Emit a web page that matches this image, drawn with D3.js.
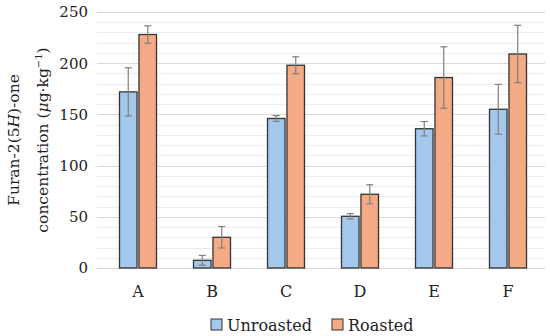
<!DOCTYPE html>
<html>
<head>
<meta charset="utf-8">
<script src="https://cdn.jsdelivr.net/npm/d3@7"></script>
<style>
  body { margin: 0; background: #fff; }
  text { font-family: "DejaVu Serif", serif; fill: #222; }
</style>
</head>
<body>
<script>
const samples = ['A', 'B', 'C', 'D', 'E', 'F'];
const groups = ['Unroasted', 'Roasted'];
const unroasted = [172, 7.5, 146, 50.5, 136, 155];
const unroastedErr = [23.5, 4.8, 2.8, 2.6, 7, 24.3];
const roasted = [228, 30, 198, 72, 186, 209];
const roastedErr = [8.5, 10.5, 8.3, 9.3, 30, 28];
const yTicks = [0, 50, 100, 150, 200, 250];

const colors = { Unroasted: '#a4c8ec', Roasted: '#f4aa84' };

const width = 550, height = 336;
const margin = { t: 12, b: 68, l: 101, r: 5 };
const w = width - margin.l - margin.r;
const h = height - margin.t - margin.b;

const svg = d3.select('body').append('svg')
  .attr('width', width)
  .attr('height', height);

const g = svg.append('g')
  .attr('transform', `translate(${margin.l},${margin.t})`);

const x = d3.scaleBand().domain(samples).range([0, w]);
const x1 = d3.scaleBand().domain(groups).range([x.bandwidth() * 0.25, x.bandwidth() * 0.75]).paddingInner(0.1);
const y = d3.scaleLinear().domain([0, 250]).range([h, 0]);

// minor gridlines every 10, major every 50
g.append('g').selectAll('line')
  .data(d3.range(10, 250, 10).filter(v => v % 50 !== 0))
  .enter().append('line')
  .attr('x1', -4).attr('x2', w)
  .attr('y1', d => Math.round(y(d)) + 0.5).attr('y2', d => Math.round(y(d)) + 0.5)
  .style('stroke', '#ececec');

g.append('g').selectAll('line')
  .data(yTicks)
  .enter().append('line')
  .attr('x1', -4).attr('x2', w)
  .attr('y1', d => Math.round(y(d)) + 0.5).attr('y2', d => Math.round(y(d)) + 0.5)
  .style('stroke', '#d9d9d9');

// y axis labels
const yAxis = d3.axisLeft(y).tickValues(yTicks).tickSize(0).tickPadding(13);
g.append('g').call(yAxis)
  .call(a => a.select('.domain').remove())
  .selectAll('text')
  .style('font-size', '15px')
  .style('font-family', '"DejaVu Serif", serif')
  .attr('fill', '#222');

// x axis labels
const xAxis = d3.axisBottom(x).tickSize(0).tickPadding(18);
g.append('g').attr('transform', `translate(0,${h})`).call(xAxis)
  .call(a => a.select('.domain').remove())
  .selectAll('text')
  .style('font-size', '16px')
  .style('font-family', '"DejaVu Serif", serif')
  .attr('fill', '#222');

const rows = samples.map((s, i) => ({
  sample: s,
  vals: [
    { key: 'Unroasted', v: unroasted[i], e: unroastedErr[i] },
    { key: 'Roasted', v: roasted[i], e: roastedErr[i] }
  ]
}));

const grp = g.selectAll('.grp').data(rows).enter().append('g')
  .attr('transform', d => `translate(${x(d.sample)},0)`);

grp.selectAll('rect').data(d => d.vals).enter().append('rect')
  .attr('x', d => x1(d.key))
  .attr('y', d => y(d.v))
  .attr('width', x1.bandwidth())
  .attr('height', d => y(0) - y(d.v))
  .style('fill', d => colors[d.key])
  .style('stroke', '#333')
  .style('stroke-width', 1.3);

// error bars
const eb = grp.selectAll('.err').data(d => d.vals).enter().append('g')
  .attr('transform', d => `translate(${x1(d.key) + x1.bandwidth() / 2},0)`)
  .style('stroke', '#7f7f7f')
  .style('stroke-width', 1.2);
eb.append('line').attr('y1', d => y(d.v + d.e)).attr('y2', d => y(d.v - d.e));
eb.append('line').attr('x1', -3.5).attr('x2', 3.5).attr('y1', d => y(d.v + d.e)).attr('y2', d => y(d.v + d.e));
eb.append('line').attr('x1', -3.5).attr('x2', 3.5).attr('y1', d => y(d.v - d.e)).attr('y2', d => y(d.v - d.e));

// y title
const yt = svg.append('text')
  .attr('transform', `translate(0,${margin.t + h / 2}) rotate(-90)`)
  .attr('text-anchor', 'middle')
  .style('font-size', '15.5px');
const l1 = yt.append('tspan').attr('x', 0).attr('y', 19);
l1.append('tspan').text('Furan-2(5');
l1.append('tspan').style('font-style', 'italic').text('H');
l1.append('tspan').text(')-one');
const l2 = yt.append('tspan').attr('x', 0).attr('y', 48);
l2.append('tspan').text('concentration (');
l2.append('tspan').style('font-style', 'italic').text('μ');
l2.append('tspan').text('g·kg');
l2.append('tspan').attr('dy', -6).style('font-size', '10px').text('−1');
l2.append('tspan').attr('dy', 6).text(')');

// legend
const legend = svg.append('g').attr('transform', 'translate(211,319)');
const items = [
  { key: 'Unroasted', x: 0 },
  { key: 'Roasted', x: 121 }
];
const li = legend.selectAll('g').data(items).enter().append('g')
  .attr('transform', d => `translate(${d.x},0)`);
li.append('rect')
  .attr('width', 11).attr('height', 11)
  .style('fill', d => colors[d.key])
  .style('stroke', '#333');
li.append('text')
  .attr('x', 16).attr('y', 11.5)
  .style('font-size', '16px')
  .text(d => d.key);
</script>
</body>
</html>
